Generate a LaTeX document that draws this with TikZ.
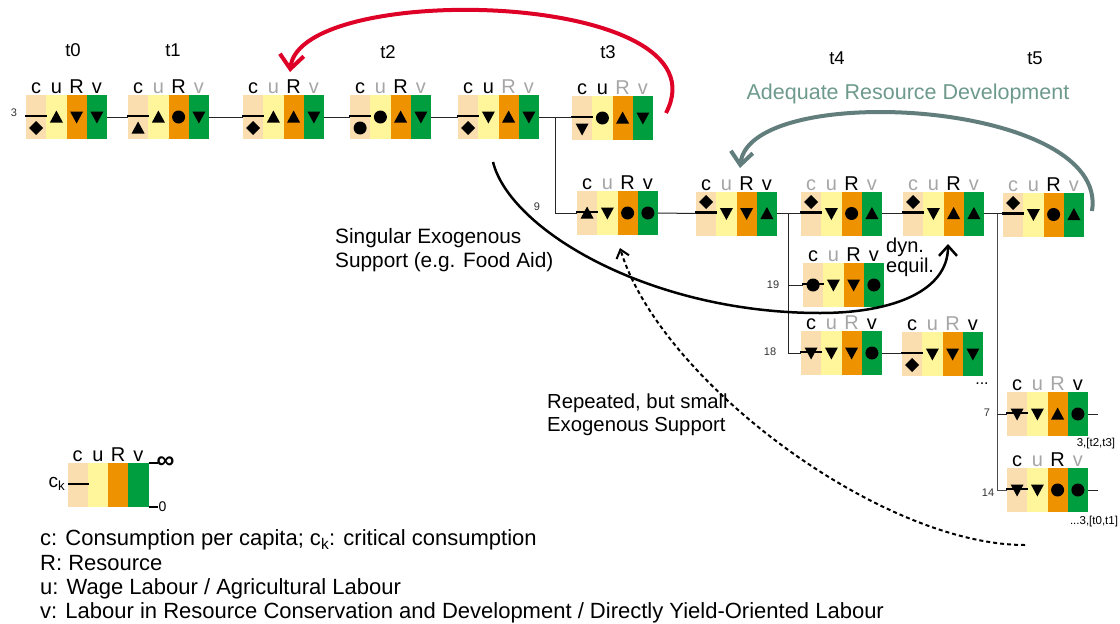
\documentclass[tikz,border=0pt]{standalone}
\usepackage{fontspec}
\setmainfont{Liberation Sans}
\usetikzlibrary{arrows.meta}

\definecolor{ccol}{RGB}{250,222,176}
\definecolor{ucol}{RGB}{255,246,155}
\definecolor{Rcol}{RGB}{238,146,0}
\definecolor{vcol}{RGB}{0,158,62}
\definecolor{lgray}{RGB}{166,166,166}
\definecolor{redarrow}{RGB}{222,0,38}
\definecolor{devarrow}{RGB}{97,125,124}
\definecolor{devtext}{RGB}{110,154,141}
\definecolor{numgray}{RGB}{51,51,51}

\tikzset{
  stbox/.style={minimum width=81pt, minimum height=44pt, inner sep=0pt, outer sep=0pt},
  collab/.style={anchor=base, inner sep=0pt, font=\fontsize{20}{22}\selectfont},
  conn/.style={line width=1pt, black!85},
  cline/.style={line width=2.6pt, black},
  numlab/.style={inner sep=0pt, font=\fontsize{11}{12}\selectfont, text=numgray},
  tlab/.style={anchor=base, inner sep=0pt, font=\fontsize{18.5}{20}\selectfont},
  txt/.style={inner sep=0pt, font=\fontsize{20.5}{24}\selectfont},
  legtxt/.style={anchor=base west, inner sep=0pt, font=\fontsize{22}{24}\selectfont},
  symup/.pic={\fill (-6.5,5.5) -- (6.5,5.5) -- (0,-6.5) -- cycle;},
  symdown/.pic={\fill (-6.5,-5.5) -- (6.5,-5.5) -- (0,6.5) -- cycle;},
  symdot/.pic={\fill (0,0) circle (6.5);},
  symdia/.pic={\fill (0,-7) -- (7,0) -- (0,7) -- (-7,0) -- cycle;},
}

% state box: name, centre, colours of the labels c, u, R, v
\newcommand\stbox[6]{%
  \node[stbox] (#1) at (#2) {};
  \fill[ccol] (#1.north west) rectangle ([xshift=20.25pt]#1.south west);
  \fill[ucol] ([xshift=20.25pt]#1.north west) rectangle ([xshift=40.5pt]#1.south west);
  \fill[Rcol] ([xshift=40.5pt]#1.north west) rectangle ([xshift=60.75pt]#1.south west);
  \fill[vcol] ([xshift=60.75pt]#1.north west) rectangle (#1.south east);
  \node[collab,text=#3] (#1-c) at ([xshift=10.1pt,yshift=1.5pt]#1.north west) {c};
  \node[collab,text=#4] (#1-u) at ([xshift=30.4pt,yshift=1.5pt]#1.north west) {u};
  \node[collab,text=#5] (#1-R) at ([xshift=50.6pt,yshift=1.5pt]#1.north west) {R};
  \node[collab,text=#6] (#1-v) at ([xshift=70.9pt,yshift=1.5pt]#1.north west) {v};
}
% consumption: critical line and symbol (shift upwards in pt)
\newcommand\csym[3]{%
  \draw[cline] ([xshift=-1pt,yshift=1pt]#1.west) -- ([xshift=21pt,yshift=1pt]#1.west);
  \pic at ([xshift=10.1pt,yshift=#3pt]#1.west) {#2};
}
% symbols of u, R, v
\newcommand\syms[4]{%
  \pic at ([xshift=30.4pt]#1.west) {#2};
  \pic at ([xshift=50.6pt]#1.west) {#3};
  \pic at ([xshift=70.9pt]#1.west) {#4};
}

\begin{document}
\begin{tikzpicture}[x=1pt,y=-1pt]
\useasboundingbox[fill=white] (0,0) rectangle (1120,624);

% time labels
\node[tlab] (t0) at (73,56.5) {t0};
\node[tlab] (t1) at (173,56.5) {t1};
\node[tlab] (t2) at (388,58) {t2};
\node[tlab] (t3) at (608,58) {t3};
\node[tlab] (t4) at (837,64) {t4};
\node[tlab] (t5) at (1035,64) {t5};

% upper row
\stbox{A}{66.5,117}{black}{black}{black}{black}
\csym{A}{symdia}{-11}\syms{A}{symup}{symdown}{symdown}
\stbox{B}{168.5,117}{black}{lgray}{black}{lgray}
\csym{B}{symup}{-11}\syms{B}{symup}{symdot}{symdown}
\stbox{C}{283.5,117}{black}{lgray}{black}{lgray}
\csym{C}{symdia}{-11}\syms{C}{symup}{symup}{symdown}
\stbox{D}{390.5,117}{black}{lgray}{black}{lgray}
\csym{D}{symdot}{-11}\syms{D}{symdot}{symup}{symdown}
\stbox{E}{498.5,117}{black}{black}{lgray}{lgray}
\csym{E}{symdia}{-11}\syms{E}{symdown}{symup}{symdown}
\stbox{F}{612.5,118}{black}{black}{lgray}{lgray}
\csym{F}{symdown}{-11}\syms{F}{symdot}{symup}{symdown}

% second row
\stbox{G}{617.5,213}{black}{lgray}{black}{black}
\csym{G}{symup}{0}\syms{G}{symdown}{symdot}{symdot}
\stbox{H}{736.5,213.5}{black}{lgray}{black}{black}
\csym{H}{symdia}{11.5}\syms{H}{symdown}{symdown}{symup}
\stbox{I}{841.5,213.5}{lgray}{lgray}{black}{lgray}
\csym{I}{symdia}{11.5}\syms{I}{symdown}{symdot}{symup}
\stbox{J}{943.5,213.5}{lgray}{lgray}{black}{lgray}
\csym{J}{symdia}{11.5}\syms{J}{symdown}{symup}{symup}
\stbox{K}{1043.5,214.5}{lgray}{lgray}{black}{lgray}
\csym{K}{symdia}{11.5}\syms{K}{symdown}{symdot}{symup}

% branches below t4
\stbox{L}{843.5,285}{black}{lgray}{black}{black}
\csym{L}{symdot}{0}\syms{L}{symdown}{symdown}{symdot}
\stbox{M}{841.5,353}{black}{lgray}{lgray}{black}
\csym{M}{symdown}{0}\syms{M}{symdown}{symdown}{symdot}
\stbox{N}{942.5,354}{black}{lgray}{lgray}{black}
\csym{N}{symdia}{-11}\syms{N}{symdown}{symdown}{symdown}

% branches below t5
\stbox{O}{1047.5,414}{black}{lgray}{lgray}{black}
\csym{O}{symdown}{0}\syms{O}{symdown}{symup}{symdot}
\stbox{P}{1047.5,490}{black}{lgray}{black}{lgray}
\csym{P}{symdown}{0}\syms{P}{symdown}{symdot}{symdot}

% connectors
\coordinate (j9) at (555,117);
\coordinate (j18) at (788,213.5);
\coordinate (j7) at (997,213.5);
\coordinate (oOut) at ([xshift=10pt]O.east);
\coordinate (pOut) at ([xshift=10pt]P.east);
\draw[conn] (A.east) -- (B.west);
\draw[conn] (B.east) -- (C.west);
\draw[conn] (C.east) -- (D.west);
\draw[conn] (D.east) -- (E.west);
\draw[conn] (E.east) -- (E.east -| F.west);
\draw[conn] (j9) |- (G.west);
\draw[conn] (G.east) -- (H.west);
\draw[conn] (H.east) -- (I.west);
\draw[conn] (I.east) -- (J.west);
\draw[conn] (J.east) -- (J.east -| K.west);
\draw[conn] (j18) |- (M.west);
\draw[conn] (j18 |- L.west) -- (L.west);
\draw[conn] (M.east) -- (M.east -| N.west);
\draw[conn, black!70] (j7) |- (P.west);
\draw[conn] (j7 |- O.west) -- (O.west);
\draw[conn] (O.east) -- (oOut);
\draw[conn] (P.east) -- (pOut);

% branch numbers
\node[numlab] (n3) at (14,113) {3};
\node[numlab] (n9) at (537,207) {9};
\node[numlab] (n19) at (773,285) {19};
\node[numlab] (n18) at (770,352) {18};
\node[numlab] (n7) at (987,413) {7};
\node[numlab] (n14) at (988,493) {14};
\node[numlab, text=black, anchor=north, font=\fontsize{11.5}{12}\selectfont] (r7) at (1096,438) {3,[t2,t3]};
\node[numlab, text=black, anchor=north, font=\fontsize{11.5}{12}\selectfont] (r14) at (1094,516) {...3,[t0,t1]};
\node[inner sep=0pt, anchor=base, font=\fontsize{16}{16}\selectfont] (dots) at (982,384) {...};

% texts
\node[txt, anchor=base west, align=left, font=\fontsize{20}{20}\selectfont] (dyn) at (886,272) {dyn.\\equil.};
\node[txt, anchor=base, text=devtext, font=\fontsize{21.5}{24}\selectfont] (dev) at (908,99) {Adequate Resource Development};
\node[txt, anchor=base west, align=left, font=\fontsize{20.8}{24}\selectfont] (single) at (335,267) {Singular Exogenous\\Support (e.g. Food Aid)};
\node[txt, anchor=base west, align=left, font=\fontsize{20.3}{23}\selectfont] (repeat) at (547,431) {Repeated, but small\\Exogenous Support};

% arrows
\coordinate (redS) at (666,113);
\coordinate (redE) at (290,72);
\draw[redarrow, line width=4pt, -{Straight Barb[length=14pt,width=24pt]}]
  (redS) .. controls (730,-10) and (300,-20) .. (redE);
\coordinate (devS) at (1092,211);
\coordinate (devE) at (740,168);
\draw[devarrow, line width=4pt, -{Straight Barb[length=13pt,width=22pt]}]
  (devS) .. controls (1110,100) and (750,80) .. (devE);
\coordinate (supS) at (493,162);
\coordinate (supM) at (820,313);
\coordinate (supE) at (948,244);
\draw[black, line width=2.5pt, -{Straight Barb[length=10pt,width=18pt]}]
  (supS) .. controls (510,230) and (650,313) .. (supM)
  .. controls (895,313) and (948,290) .. (supE);
\coordinate (repS) at (1025,545);
\coordinate (repE) at (620,248);
\draw[black, line width=2pt, dash pattern=on 4pt off 3pt, -{Straight Barb[length=8pt,width=13pt]}]
  (repS) .. controls (880,545) and (660,380) .. (repE);

% legend box
\stbox{Q}{108,485}{black}{black}{black}{black}
\draw[cline] ([yshift=1pt]Q.west) -- ([xshift=21pt,yshift=1pt]Q.west);
\coordinate (qInf) at ([xshift=9pt]Q.north east);
\coordinate (qZero) at ([xshift=9pt]Q.south east);
\draw[cline] (Q.north east) -- (qInf);
\draw[cline] (Q.south east) -- (qZero);
\node[inner sep=0pt, anchor=east, font=\fontsize{19}{20}\selectfont] (ck) at ([xshift=-2pt,yshift=1pt]Q.west) {c\textsubscript{k}};
\node[inner sep=0pt, anchor=west, font=\bfseries\fontsize{25}{25}\selectfont] (inf) at ([xshift=-1pt]qInf) {∞};
\node[inner sep=0pt, anchor=west, font=\fontsize{14}{14}\selectfont] (zero) at ([xshift=1pt]qZero) {0};

% legend
\node[legtxt] (lg1) at (40,545) {c: Consumption per capita; c\textsubscript{k}: critical consumption};
\node[legtxt] (lg2) at (40,570) {R: Resource};
\node[legtxt] (lg3) at (40,594) {u: Wage Labour / Agricultural Labour};
\node[legtxt] (lg4) at (40,618) {v: Labour in Resource Conservation and Development / Directly Yield-Oriented Labour};
\end{tikzpicture}
\end{document}
